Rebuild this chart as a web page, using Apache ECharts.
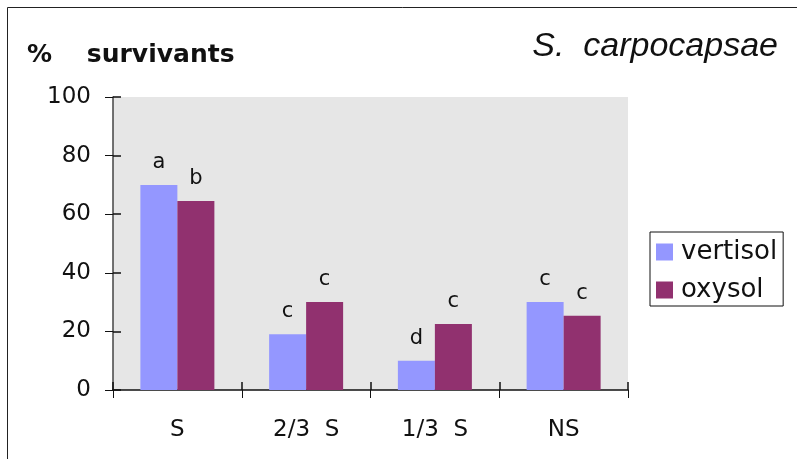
<!DOCTYPE html>
<html>
<head>
<meta charset="utf-8">
<script src="https://cdn.jsdelivr.net/npm/echarts@6/dist/echarts.min.js"></script>
<style>
  html, body { margin: 0; padding: 0; background: #fff; }
  #main { width: 797px; height: 459px; }
</style>
</head>
<body>
<div id="main"></div>
<script>
let categories = ['S', '2/3  S', '1/3  S', 'NS'];
let vertisol = [70, 19, 10, 30];
let oxysol = [64.5, 30, 22.5, 25.3];
let vertisolLetters = ['a', 'c', 'd', 'c'];
let oxysolLetters = ['b', 'c', 'c', 'c'];
let seriesNames = ['vertisol', 'oxysol'];

const font = 'DejaVu Sans';

function letterLabel(letters) {
    return {
        show: true,
        position: 'top',
        distance: 12,
        fontFamily: font,
        fontSize: 21,
        color: '#111',
        formatter: p => letters[p.dataIndex]
    };
}

// second pair of axes only draws the inner half of the crossing ticks
const option = {
    animation: false,
    backgroundColor: '#fff',
    title: [{
        text: '%    survivants',
        left: 22,
        top: 38,
        textStyle: { fontFamily: font, fontWeight: 'bold', fontSize: 25, color: '#111' }
    }, {
        text: 'S.  carpocapsae',
        right: 14,
        top: 25,
        textStyle: { fontFamily: 'Liberation Sans', fontStyle: 'italic', fontWeight: 'normal', fontSize: 34, color: '#111' }
    }],
    graphic: [{
        type: 'rect',
        shape: { x: 7.5, y: 7.5, width: 900, height: 600 },
        style: { fill: 'none', stroke: '#222', lineWidth: 1 }
    }],
    legend: {
        orient: 'vertical',
        left: 650,
        top: 232,
        padding: [7, 6, 3, 6],
        borderColor: '#111',
        borderWidth: 1,
        itemWidth: 17,
        itemHeight: 17,
        itemGap: 12,
        icon: 'rect',
        textStyle: { fontFamily: font, fontSize: 26, lineHeight: 26, color: '#111', padding: [0, 0, 0, 3] },
        data: seriesNames
    },
    grid: {
        left: 113,
        right: 169,
        top: 97,
        bottom: 69,
        show: true,
        backgroundColor: '#e6e6e6',
        borderWidth: 0
    },
    xAxis: [{
        type: 'category',
        data: categories,
        axisLine: { lineStyle: { color: '#111', width: 1.5 } },
        axisTick: { show: true, length: 8, lineStyle: { color: '#111' } },
        axisLabel: { margin: 29, fontFamily: font, fontSize: 23, color: '#111' }
    }, {
        type: 'category',
        data: categories,
        position: 'bottom',
        offset: 0,
        axisLine: { show: true, lineStyle: { color: 'rgba(0,0,0,0)' } },
        axisTick: { show: true, inside: true, length: 8, lineStyle: { color: '#111', width: 1.5 } },
        axisLabel: { show: false }
    }],
    yAxis: [{
        type: 'value',
        min: 0,
        max: 100,
        interval: 20,
        axisLine: { show: true, lineStyle: { color: '#444', width: 1.5 } },
        axisTick: { show: true, length: 8, lineStyle: { color: '#111' } },
        axisLabel: { margin: 22, fontFamily: font, fontSize: 23, color: '#111' },
        splitLine: { show: false }
    }, {
        type: 'value',
        min: 0,
        max: 100,
        interval: 20,
        position: 'left',
        offset: 0,
        axisLine: { show: true, lineStyle: { color: 'rgba(0,0,0,0)' } },
        axisTick: { show: true, inside: true, length: 8, lineStyle: { color: '#111', width: 1.5 } },
        axisLabel: { show: false },
        splitLine: { show: false }
    }],
    series: [{
        name: seriesNames[0],
        type: 'bar',
        data: vertisol,
        barWidth: 37,
        barGap: '0%',
        itemStyle: { color: '#9497ff' },
        label: letterLabel(vertisolLetters)
    }, {
        name: seriesNames[1],
        type: 'bar',
        data: oxysol,
        barWidth: 37,
        barGap: '0%',
        itemStyle: { color: '#91316f' },
        label: letterLabel(oxysolLetters)
    }]
};

let plot = echarts.init(document.querySelector('#main'));
plot.setOption(option);
</script>
</body>
</html>
